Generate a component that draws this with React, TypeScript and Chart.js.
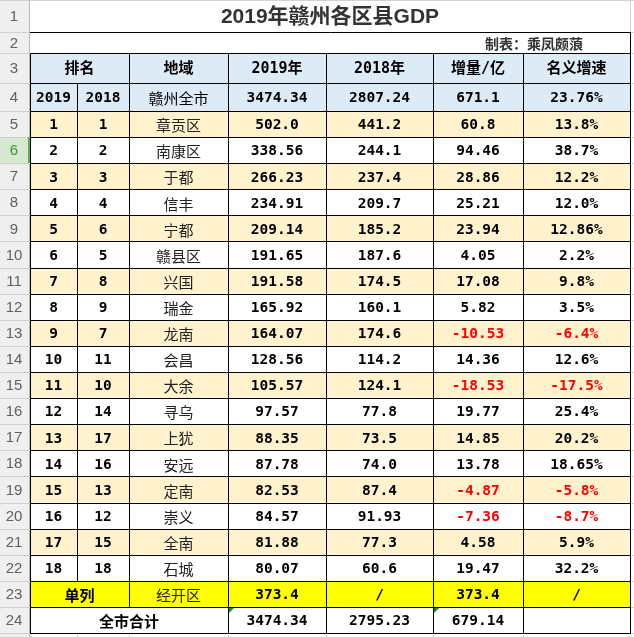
import React, { useEffect, useRef } from 'react';
import { Chart, registerables } from 'chart.js';

Chart.register(...registerables);

// ---------------- data ----------------
const title = '2019年赣州各区县GDP';
const author = '制表：乘凤颇蒗';
const headerLabels = ['排名', '地域', '2019年', '2018年', '增量/亿', '名义增速'];
const cityRow = ['2019', '2018', '赣州全市', '3474.34', '2807.24', '671.1', '23.76%'];
const rank2019 = ['1', '2', '3', '4', '5', '6', '7', '8', '9', '10', '11', '12', '13', '14', '15', '16', '17', '18'];
const rank2018 = ['1', '2', '3', '4', '6', '5', '8', '9', '7', '11', '10', '14', '17', '16', '13', '12', '15', '18'];
const regions = ['章贡区', '南康区', '于都', '信丰', '宁都', '赣县区', '兴国', '瑞金', '龙南', '会昌', '大余', '寻乌', '上犹', '安远', '定南', '崇义', '全南', '石城'];
const gdp2019 = ['502.0', '338.56', '266.23', '234.91', '209.14', '191.65', '191.58', '165.92', '164.07', '128.56', '105.57', '97.57', '88.35', '87.78', '82.53', '84.57', '81.88', '80.07'];
const gdp2018 = ['441.2', '244.1', '237.4', '209.7', '185.2', '187.6', '174.5', '160.1', '174.6', '114.2', '124.1', '77.8', '73.5', '74.0', '87.4', '91.93', '77.3', '60.6'];
const increase = ['60.8', '94.46', '28.86', '25.21', '23.94', '4.05', '17.08', '5.82', '-10.53', '14.36', '-18.53', '19.77', '14.85', '13.78', '-4.87', '-7.36', '4.58', '19.47'];
const growth = ['13.8%', '38.7%', '12.2%', '12.0%', '12.86%', '2.2%', '9.8%', '3.5%', '-6.4%', '12.6%', '-17.5%', '25.4%', '20.2%', '18.65%', '-5.8%', '-8.7%', '5.9%', '32.2%'];
const separateRow = ['单列', '经开区', '373.4', '/', '373.4', '/'];
const totalRow = ['全市合计', '3474.34', '2795.23', '679.14', ''];
const rowNumbers = ['1', '2', '3', '4', '5', '6', '7', '8', '9', '10', '11', '12', '13', '14', '15', '16', '17', '18', '19', '20', '21', '22', '23', '24'];
const selectedRow = 6;

// ---------------- layout (sheet units) ----------------
const colWidths = [30, 47, 52, 99, 98, 107, 90, 107, 4]; // row-header, A..G, H
const rowHeights = [32, 21, 30, 28, 26.1, 26.1, 26.1, 26.1, 26.1, 26.1, 26.1, 26.1, 26.1, 26.1, 26.1, 26.1, 26.1, 26.1, 26.1, 26.1, 26.1, 26.1, 26.1, 26.1, 4];

const colEdges: number[] = [0];
colWidths.forEach((w) => colEdges.push(colEdges[colEdges.length - 1] + w));
const rowEdges: number[] = [0];
rowHeights.forEach((h) => rowEdges.push(rowEdges[rowEdges.length - 1] + h));
const W = colEdges[colEdges.length - 1];
const H = rowEdges[rowEdges.length - 1];

const C_BLUE = '#DDEBF7';
const C_ORANGE = '#FFF2CC';
const C_YELLOW = '#FFFF00';
const C_WHITE = '#FFFFFF';

const NUM = 'bold 14.5px "DejaVu Sans Mono", "Noto Sans CJK SC", monospace';
const HEAD = 'bold 15px "DejaVu Sans Mono", "Noto Sans CJK SC", monospace';
const NAME = '15px "Noto Sans CJK SC", sans-serif';
const NAMEB = 'bold 15px "Noto Sans CJK SC", sans-serif';

type Cell = { r: number; c0: number; c1: number; text: string; font: string; color: string; bg: string };

function buildCells(): Cell[] {
  const cells: Cell[] = [];
  // columns: 1..7 = A..G (index into colEdges: left edge = colEdges[c], right = colEdges[c1+1])
  const hdr = (r: number, c0: number, c1: number, text: string, font: string) =>
    cells.push({ r, c0, c1, text, font, color: '#000', bg: C_BLUE });
  hdr(2, 1, 2, headerLabels[0], HEAD);
  hdr(2, 3, 3, headerLabels[1], HEAD);
  hdr(2, 4, 4, headerLabels[2], HEAD);
  hdr(2, 5, 5, headerLabels[3], HEAD);
  hdr(2, 6, 6, headerLabels[4], HEAD);
  hdr(2, 7, 7, headerLabels[5], HEAD);
  cityRow.forEach((t, i) => hdr(3, i + 1, i + 1, t, i === 2 ? NAME : NUM));

  regions.forEach((name, i) => {
    const r = 4 + i;
    const bg = i % 2 === 0 ? C_ORANGE : C_WHITE;
    const vals = [rank2019[i], rank2018[i], name, gdp2019[i], gdp2018[i], increase[i], growth[i]];
    vals.forEach((t, j) => {
      cells.push({
        r, c0: j + 1, c1: j + 1, text: t,
        font: j === 2 ? NAME : NUM,
        color: t.startsWith('-') ? '#FF0000' : j === 2 ? '#222' : '#000',
        bg,
      });
    });
  });

  const r23 = 4 + regions.length;
  cells.push({ r: r23, c0: 1, c1: 2, text: separateRow[0], font: NAMEB, color: '#000', bg: C_YELLOW });
  cells.push({ r: r23, c0: 3, c1: 3, text: separateRow[1], font: NAME, color: '#222', bg: C_YELLOW });
  for (let j = 2; j < separateRow.length; j++) {
    cells.push({ r: r23, c0: j + 2, c1: j + 2, text: separateRow[j], font: NUM, color: '#000', bg: C_YELLOW });
  }
  const r24 = r23 + 1;
  cells.push({ r: r24, c0: 1, c1: 3, text: totalRow[0], font: NAMEB, color: '#000', bg: C_WHITE });
  for (let j = 1; j < totalRow.length; j++) {
    cells.push({ r: r24, c0: j + 3, c1: j + 3, text: totalRow[j], font: NUM, color: '#000', bg: C_WHITE });
  }
  return cells;
}

const tablePlugin = {
  id: 'sheetTable',
  beforeDatasetsDraw(chart: any) {
    const ctx = chart.ctx as CanvasRenderingContext2D;
    const xs = chart.scales.x;
    const ys = chart.scales.y;
    const px = (v: number) => xs.getPixelForValue(v);
    const py = (v: number) => ys.getPixelForValue(v);
    const lx = (v: number) => Math.round(px(v)) + 0.5;
    const ly = (v: number) => Math.round(py(v)) + 0.5;
    const nRows = rowNumbers.length;

    ctx.save();
    ctx.fillStyle = '#FFFFFF';
    ctx.fillRect(px(0), py(0), px(W) - px(0), py(H) - py(0));

    // faint sheet grid
    ctx.strokeStyle = '#D4D4D4';
    ctx.lineWidth = 1;
    ctx.beginPath();
    ctx.moveTo(px(0), ly(0)); ctx.lineTo(px(W), ly(0));
    ctx.moveTo(lx(colEdges[8]), py(0)); ctx.lineTo(lx(colEdges[8]), py(rowEdges[1]));
    for (let r = 1; r <= nRows + 1; r++) {
      ctx.moveTo(px(colEdges[8]), ly(rowEdges[r])); ctx.lineTo(px(W), ly(rowEdges[r]));
    }
    for (let c = 1; c <= 8; c++) {
      ctx.moveTo(lx(colEdges[c]), py(rowEdges[nRows])); ctx.lineTo(lx(colEdges[c]), py(H));
    }
    ctx.stroke();

    // row header column
    ctx.fillStyle = '#EFEFEF';
    ctx.fillRect(px(0), py(0), px(colEdges[1]) - px(0), py(H) - py(0));
    const sr = selectedRow - 1;
    ctx.fillStyle = '#D6E8D0';
    ctx.fillRect(px(0), py(rowEdges[sr]), px(colEdges[1]) - px(0), py(rowEdges[sr + 1]) - py(rowEdges[sr]));
    ctx.strokeStyle = '#D0D0D0';
    ctx.beginPath();
    for (let r = 0; r <= nRows + 1; r++) {
      ctx.moveTo(px(0), ly(rowEdges[r])); ctx.lineTo(px(colEdges[1]), ly(rowEdges[r]));
    }
    ctx.stroke();
    ctx.strokeStyle = '#BDBDBD';
    ctx.beginPath();
    ctx.moveTo(lx(colEdges[1]) - 1, py(0)); ctx.lineTo(lx(colEdges[1]) - 1, py(H));
    ctx.stroke();
    ctx.fillStyle = '#5FAE45';
    ctx.fillRect(px(colEdges[1]) - 2, py(rowEdges[sr]), 2, py(rowEdges[sr + 1]) - py(rowEdges[sr]));
    ctx.font = '15px "Liberation Sans", "DejaVu Sans", sans-serif';
    ctx.textAlign = 'center';
    ctx.textBaseline = 'middle';
    rowNumbers.forEach((t, r) => {
      ctx.fillStyle = r === sr ? '#3A9A2A' : '#606060';
      ctx.fillText(t, (px(colEdges[0]) + px(colEdges[1])) / 2 - 1, (py(rowEdges[r]) + py(rowEdges[r + 1])) / 2 + 1);
    });

    // title
    ctx.fillStyle = '#333333';
    ctx.font = 'bold 21px "Liberation Sans", "Noto Sans CJK SC", sans-serif';
    ctx.fillText(title, (px(colEdges[1]) + px(colEdges[8])) / 2, (py(rowEdges[0]) + py(rowEdges[1])) / 2 + 1);
    // author
    ctx.font = 'bold 14px "Noto Sans CJK SC", sans-serif';
    ctx.textAlign = 'right';
    ctx.fillStyle = '#333333';
    ctx.fillText(author, px(colEdges[8]) - 47, (py(rowEdges[1]) + py(rowEdges[2])) / 2 + 1.5);

    // row 2 border box
    ctx.strokeStyle = '#000000';
    ctx.beginPath();
    ctx.moveTo(px(colEdges[1]), ly(rowEdges[1])); ctx.lineTo(lx(colEdges[8]) + 0.5, ly(rowEdges[1]));
    ctx.moveTo(lx(colEdges[8]), ly(rowEdges[1])); ctx.lineTo(lx(colEdges[8]), ly(rowEdges[2]));
    ctx.stroke();

    const cells = buildCells();
    cells.forEach((c) => {
      const x0 = px(colEdges[c.c0]);
      const x1 = px(colEdges[c.c1 + 1]);
      const y0 = py(rowEdges[c.r]);
      const y1 = py(rowEdges[c.r + 1]);
      ctx.fillStyle = c.bg;
      ctx.fillRect(x0, y0, x1 - x0, y1 - y0);
    });
    ctx.textAlign = 'center';
    ctx.textBaseline = 'middle';
    cells.forEach((c) => {
      const x0 = px(colEdges[c.c0]);
      const x1 = px(colEdges[c.c1 + 1]);
      const y0 = py(rowEdges[c.r]);
      const y1 = py(rowEdges[c.r + 1]);
      ctx.fillStyle = c.color;
      ctx.font = c.font;
      ctx.fillText(c.text, (x0 + x1) / 2, (y0 + y1) / 2 + 1.5);
    });
    ctx.strokeStyle = '#000000';
    ctx.lineWidth = 1;
    ctx.beginPath();
    cells.forEach((c) => {
      const x0 = lx(colEdges[c.c0]);
      const x1 = lx(colEdges[c.c1 + 1]);
      const y0 = ly(rowEdges[c.r]);
      const y1 = ly(rowEdges[c.r + 1]);
      ctx.rect(x0, y0, x1 - x0, y1 - y0);
    });
    ctx.stroke();

    // green error indicators on total row
    const r24 = rowNumbers.length - 1;
    ctx.fillStyle = '#1E8C2E';
    [4, 6].forEach((c) => {
      const x = Math.round(px(colEdges[c])) + 1;
      const y = Math.round(py(rowEdges[r24])) + 1;
      ctx.beginPath();
      ctx.moveTo(x, y); ctx.lineTo(x + 5, y); ctx.lineTo(x, y + 5); ctx.closePath();
      ctx.fill();
    });
    ctx.restore();
  },
};

export default function App() {
  const ref = useRef<HTMLCanvasElement | null>(null);
  useEffect(() => {
    if (!ref.current) return;
    const chart = new Chart(ref.current, {
      type: 'scatter',
      data: { datasets: [{ data: [], pointRadius: 0 }] },
      options: {
        animation: false,
        responsive: false,
        maintainAspectRatio: false,
        events: [],
        layout: { padding: 0 },
        plugins: { legend: { display: false }, tooltip: { enabled: false }, title: { display: false } },
        scales: {
          x: { type: 'linear', min: 0, max: W, display: false },
          y: { type: 'linear', min: 0, max: H, reverse: true, display: false },
        },
      },
      plugins: [tablePlugin],
    });
    return () => chart.destroy();
  }, []);
  return (
    <div style={{ position: 'absolute', left: 0, top: 0, width: W, height: H, background: '#fff' }}>
      <canvas ref={ref} width={W} height={H} style={{ display: 'block', width: W, height: H }} />
    </div>
  );
}
